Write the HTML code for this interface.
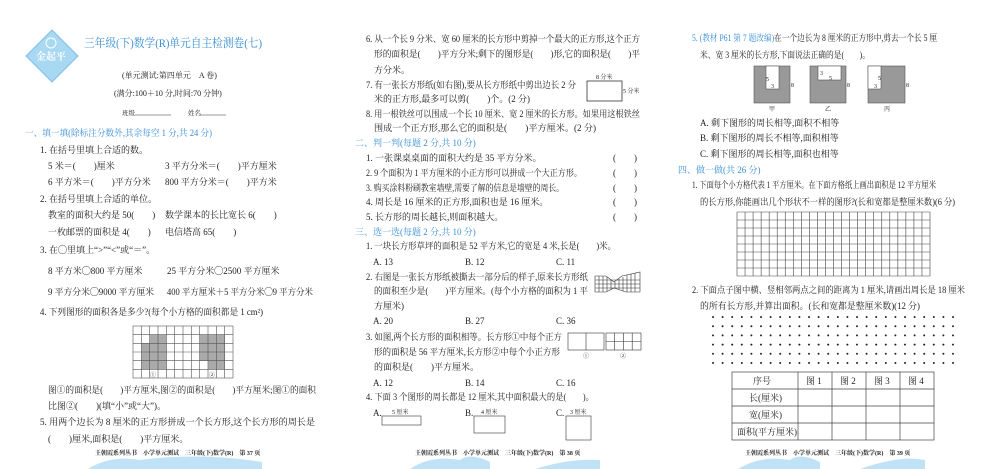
<!DOCTYPE html>
<html><head><meta charset="utf-8"><style>
html,body{margin:0;padding:0;background:#fff;}
svg{display:block;}
text{font-family:"Liberation Serif","Noto Serif CJK SC","Noto Sans CJK SC",serif;font-size:9px;fill:#222;}
.b{fill:#3b8fd4;}
.s{font-size:6px;}
.f{font-size:6px;font-weight:bold;}
</style></head><body>
<svg width="1000" height="469" viewBox="0 0 1000 469" xmlns="http://www.w3.org/2000/svg">
<rect width="1000" height="469" fill="#fff"/>
<polygon points="52,30 78,56 52,82 26,56" fill="#a9d8f2" stroke="#7fc0e8"/>
<circle cx="51" cy="43" r="5" fill="none" stroke="#fff"/>
<text x="36" y="60" style="fill:#fff;font-size:10px;font-weight:bold">金起平</text>
<text x="84" y="47" class="b" style="font-size:12px" textLength="178" lengthAdjust="spacingAndGlyphs">三年级(下)数学(R)单元自主检测卷(七)</text>
<text x="122" y="78" style="font-size:8px">(单元测试:第四单元　A 卷)</text>
<text x="114" y="96" style="font-size:8px">(满分:100＋10 分,时间:70 分钟)</text>
<text x="122" y="115" style="font-size:6.5px">班级</text><line x1="135" y1="115" x2="171" y2="115" stroke="#333" stroke-width=".6"/>
<text x="188" y="115" style="font-size:6.5px">姓名</text><line x1="200" y1="115" x2="226" y2="115" stroke="#333" stroke-width=".6"/>
<text x="25" y="136" class="b" textLength="187" lengthAdjust="spacingAndGlyphs">一、填一填(除标注分数外,其余每空 1 分,共 24 分)</text>
<text x="40" y="153">1. 在括号里填上合适的数。</text>
<text x="48" y="169">5 米＝(　　)厘米</text><text x="165" y="169">3 平方分米＝(　　)平方厘米</text>
<text x="48" y="185">6 平方米＝(　　)平方分米</text><text x="165" y="185">800 平方分米＝(　　)平方米</text>
<text x="40" y="202">2. 在括号里填上合适的单位。</text>
<text x="48" y="218">教室的面积大约是 50(　　)</text><text x="165" y="218">数学课本的长比宽长 6(　　)</text>
<text x="48" y="235">一枚邮票的面积是 4(　　)</text><text x="165" y="235">电信塔高 65(　　)</text>
<text x="40" y="253">3. 在◯里填上“&gt;”“&lt;”或“＝”。</text>
<text x="48" y="274">8 平方米◯800 平方厘米</text><text x="167" y="274">25 平方分米◯2500 平方厘米</text>
<text x="48" y="295" textLength="106" lengthAdjust="spacingAndGlyphs">9 平方分米◯9000 平方厘米</text><text x="167" y="295" textLength="146" lengthAdjust="spacingAndGlyphs">400 平方厘米＋5 平方分米◯9 平方分米</text>
<text x="40" y="315" textLength="223" lengthAdjust="spacingAndGlyphs">4. 下列图形的面积各是多少?(每个小方格的面积都是 1 cm²)</text>
<g fill="#aaa">
<rect x="150" y="334.7" width="16.6" height="8.7"/><rect x="141.7" y="343.4" width="25" height="26"/>
<rect x="200" y="334.7" width="25" height="8.7"/><rect x="200" y="343.4" width="25" height="17.4"/><rect x="208.3" y="360.8" width="16.6" height="8.7"/>
</g>
<g stroke="#555" stroke-width=".6" fill="none">
<rect x="133" y="326" width="100" height="52"/>
<path d="M141.3 326V378M149.7 326V378M158 326V378M166.3 326V378M174.7 326V378M183 326V378M191.3 326V378M199.7 326V378M208 326V378M216.3 326V378M224.7 326V378M133 334.7H233M133 343.3H233M133 352H233M133 360.7H233M133 369.3H233"/>
</g>
<text x="150" y="377" class="s">①</text><text x="209" y="377" class="s">②</text>
<text x="48" y="393" textLength="268" lengthAdjust="spacingAndGlyphs">图①的面积是(　　)平方厘米,图②的面积是(　　)平方厘米;图①的面积</text>
<text x="48" y="409">比图②(　　)(填“小”或“大”)。</text>
<text x="40" y="425" textLength="275" lengthAdjust="spacingAndGlyphs">5. 用两个边长为 8 厘米的正方形拼成一个长方形,这个长方形的周长是</text>
<text x="48" y="442">(　　)厘米,面积是(　　)平方厘米。</text>
<text x="95" y="455" class="f">王朝霞系列丛书　小学单元测试　三年级(下)数学(R)　第 37 页</text>
<path d="M88 469Q110 455 140 460Q200 452 262 462L262 469Z" fill="#bfe2f6"/>

<text x="366" y="42" textLength="274" lengthAdjust="spacingAndGlyphs">6. 从一个长 9 分米、宽 60 厘米的长方形中剪掉一个最大的正方形,这个正方</text>
<text x="374" y="57" textLength="266" lengthAdjust="spacingAndGlyphs">形的面积是(　　)平方分米;剩下的图形是(　　)形,它的面积是(　　)平</text>
<text x="374" y="73">方分米。</text>
<text x="366" y="88" textLength="210" lengthAdjust="spacingAndGlyphs">7. 有一张长方形纸(如右图),要从长方形纸中剪出边长 2 分</text>
<rect x="587" y="81" width="35" height="20" fill="none" stroke="#333" stroke-width=".8"/>
<text x="596" y="79" class="s">8 分米</text><text x="623" y="93" class="s">5 分米</text>
<text x="374" y="102">米的正方形,最多可以剪(　　)个。(2 分)</text>
<text x="366" y="117" textLength="274" lengthAdjust="spacingAndGlyphs">8. 用一根铁丝可以围成一个长 10 厘米、宽 2 厘米的长方形。如果用这根铁丝</text>
<text x="374" y="131" textLength="222" lengthAdjust="spacingAndGlyphs">围成一个正方形,那么它的面积是(　　)平方厘米。(2 分)</text>
<text x="355" y="146" class="b">二、判一判(每题 2 分,共 10 分)</text>
<text x="366" y="161">1. 一张课桌桌面的面积大约是 35 平方分米。</text>
<text x="366" y="176" textLength="216" lengthAdjust="spacingAndGlyphs">2. 9 个面积为 1 平方厘米的小正方形可以拼成一个大正方形。</text>
<text x="366" y="191" textLength="198" lengthAdjust="spacingAndGlyphs">3. 购买涂料粉刷教室墙壁,需要了解的信息是墙壁的周长。</text>
<text x="366" y="205">4. 周长是 16 厘米的正方形,面积也是 16 厘米。</text>
<text x="366" y="220">5. 长方形的周长越长,则面积越大。</text>
<g><text x="613" y="161">(　　)</text><text x="613" y="176">(　　)</text><text x="613" y="191">(　　)</text><text x="613" y="205">(　　)</text><text x="613" y="220">(　　)</text></g>
<text x="355" y="235" class="b">三、选一选(每题 2 分,共 10 分)</text>
<text x="366" y="249" textLength="250" lengthAdjust="spacingAndGlyphs">1. 一块长方形草坪的面积是 52 平方米,它的宽是 4 米,长是(　　)米。</text>
<text x="373" y="265">A. 13</text><text x="465" y="265">B. 12</text><text x="556" y="265">C. 11</text>
<text x="366" y="280" textLength="222" lengthAdjust="spacingAndGlyphs">2. 右图是一张长方形纸被撕去一部分后的样子,原来长方形纸</text>
<g stroke="#333" stroke-width=".6" fill="none">
<path d="M595 276H606L614 282L622 276L640 272V292H626L614 288L606 292H595Z"/>
<path d="M599 276V292M603 276V292M607 277V291M611 280V289M615 282V288M619 279V289M623 277V291M627 275V292M631 274V292M635 273V292M595 280H640M595 284H640M595 288H640"/>
<rect x="568" y="333" width="36" height="17"/><path d="M586 333V350"/>
<rect x="606" y="333" width="35" height="17"/><path d="M614.7 333V350M623.5 333V350M632.2 333V350M606 341.5H641"/>
<rect x="382" y="416" width="39" height="9"/>
<rect x="474" y="416" width="31" height="17"/>
<rect x="566" y="416" width="25" height="24"/>
</g>
<text x="374" y="294" textLength="214" lengthAdjust="spacingAndGlyphs">的面积至少是(　　)平方厘米。(每个小方格的面积为 1 平</text>
<text x="374" y="309">方厘米)</text>
<text x="373" y="324">A. 20</text><text x="465" y="324">B. 27</text><text x="556" y="324">C. 36</text>
<text x="366" y="340" textLength="196" lengthAdjust="spacingAndGlyphs">3. 如图,两个长方形的面积相等。长方形①中每个正方</text>
<text x="374" y="355" textLength="186" lengthAdjust="spacingAndGlyphs">形的面积是 56 平方厘米,长方形②中每个小正方形</text>
<text x="583" y="358" class="s">①</text><text x="620" y="358" class="s">②</text>
<text x="374" y="370">的面积是(　　)平方厘米。</text>
<text x="373" y="386">A. 12</text><text x="465" y="386">B. 14</text><text x="556" y="386">C. 16</text>
<text x="366" y="400" textLength="228" lengthAdjust="spacingAndGlyphs">4. 下面 3 个图形的周长都是 12 厘米,其中面积最大的是(　　)。</text>
<text x="373" y="416">A.</text><text x="392" y="414" class="s">5 厘米</text>
<text x="465" y="416">B.</text><text x="481" y="414" class="s">4 厘米</text>
<text x="556" y="416">C.</text><text x="570" y="414" class="s">3 厘米</text>
<text x="415" y="455" class="f">王朝霞系列丛书　小学单元测试　三年级(下)数学(R)　第 38 页</text>
<path d="M410 469Q430 455 460 460Q470 452 490 462L490 469Z M535 469Q570 458 600 460L600 469Z" fill="#bfe2f6"/>

<text x="692" y="41" textLength="245" lengthAdjust="spacingAndGlyphs"><tspan class="b">5. (教材 P61 第 7 题改编)</tspan>在一个边长为 8 厘米的正方形中,剪去一个长 5 厘</text>
<text x="700" y="58" textLength="170" lengthAdjust="spacingAndGlyphs">米、宽 3 厘米的长方形,下面说法正确的是(　　)。</text>
<g stroke="#555" stroke-width=".6">
<rect x="754" y="66" width="36" height="37" fill="#999"/><rect x="766" y="66" width="13" height="23" fill="#fff"/>
<rect x="810" y="66" width="36" height="37" fill="#999"/><rect x="818" y="66" width="23" height="14" fill="#fff"/>
<rect x="868" y="66" width="37" height="37" fill="#999"/><rect x="868" y="66" width="13" height="23" fill="#fff"/>
</g>
<text x="766" y="81" class="s">5</text><text x="771" y="88" class="s">3</text><text x="791" y="87" class="s">8</text>
<text x="820" y="75" class="s">3</text><text x="829" y="80" class="s">5</text><text x="847" y="87" class="s">8</text>
<text x="878" y="80" class="s">5</text><text x="874" y="88" class="s">3</text><text x="906" y="87" class="s">8</text>
<text x="769" y="111" class="s">甲</text><text x="825" y="111" class="s">乙</text><text x="884" y="111" class="s">丙</text>
<text x="700" y="126">A. 剩下图形的周长相等,面积不相等</text>
<text x="700" y="141">B. 剩下图形的周长不相等,面积相等</text>
<text x="700" y="157">C. 剩下图形的周长相等,面积也相等</text>
<text x="678" y="173" class="b">四、做一做(共 26 分)</text>
<text x="692" y="188" textLength="244" lengthAdjust="spacingAndGlyphs">1. 下面每个小方格代表 1 平方厘米。在下面方格纸上画出面积是 12 平方厘米</text>
<text x="700" y="205" textLength="255" lengthAdjust="spacingAndGlyphs">的长方形,你能画出几个形状不一样的图形?(长和宽都是整厘米数)(6 分)</text>
<g id="grid" stroke="#444" stroke-width=".6" fill="none"></g>
<text x="692" y="293" textLength="273" lengthAdjust="spacingAndGlyphs">2. 下面点子图中横、竖相邻两点之间的距离为 1 厘米,请画出周长是 18 厘米</text>
<text x="700" y="309" textLength="220" lengthAdjust="spacingAndGlyphs">的所有长方形,并算出面积。(长和宽都是整厘米数)(12 分)</text>
<g id="dots" fill="#222"></g>
<g stroke="#444" stroke-width=".7" fill="none">
<rect x="732" y="372" width="202" height="68"/>
<path d="M732 389H934M732 406H934M732 423H934M798 372V440M832 372V440M866 372V440M900 372V440"/>
</g>
<text x="753" y="384">序号</text><text x="806" y="384">图 1</text><text x="840" y="384">图 2</text><text x="874" y="384">图 3</text><text x="908" y="384">图 4</text>
<text x="749" y="401">长(厘米)</text><text x="749" y="418">宽(厘米)</text><text x="737" y="435">面积(平方厘米)</text>
<text x="745" y="455" class="f">王朝霞系列丛书　小学单元测试　三年级(下)数学(R)　第 39 页</text>
<path d="M738 469Q760 455 790 460Q800 452 820 462L820 469Z M860 469Q900 455 925 460L925 469Z" fill="#bfe2f6"/>
</svg>
<script>
var ns="http://www.w3.org/2000/svg",g=document.getElementById("grid"),d="";
for(var i=0;i<=24;i++){var x=737+i*193/24;d+="M"+x+" 212V276";}
for(var j=0;j<=8;j++){var y=212+j*8;d+="M737 "+y+"H930";}
var p=document.createElementNS(ns,"path");p.setAttribute("d",d);g.appendChild(p);
var dg=document.getElementById("dots");
for(var r=0;r<6;r++)for(var c=0;c<26;c++){var e=document.createElementNS(ns,"circle");e.setAttribute("cx",713+c*9.6);e.setAttribute("cy",317+r*9.2);e.setAttribute("r",1);dg.appendChild(e);}
</script>
</body></html>
